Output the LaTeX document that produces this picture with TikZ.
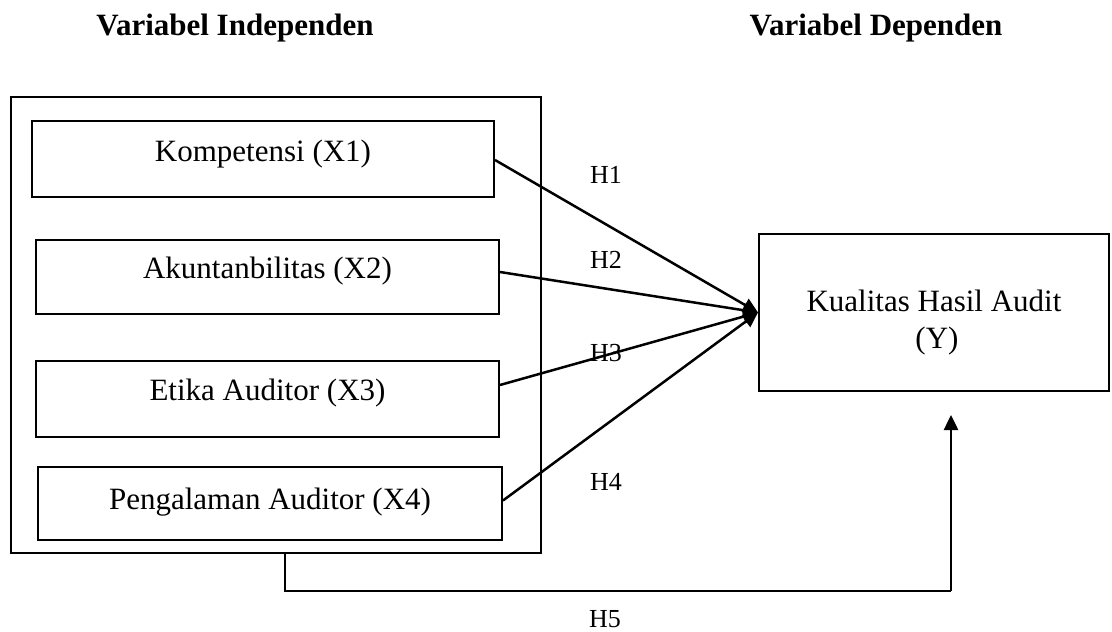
\documentclass[tikz,border=0pt]{standalone}
\usepackage{fontspec}
\setmainfont{Liberation Serif}
\usetikzlibrary{arrows.meta,calc}
\begin{document}
\begin{tikzpicture}[x=1pt,y=-1pt,
  boxstyle/.style={draw=black, line width=2pt, rectangle, inner sep=0pt},
  txt/.style={anchor=base, inner sep=0pt, font=\fontsize{31}{38}\selectfont},
  title/.style={anchor=base, inner sep=0pt, font=\fontsize{31}{38}\selectfont\bfseries},
  hlab/.style={anchor=base, inner sep=0pt, font=\fontsize{26}{30}\selectfont},
  conn/.style={line width=2.5pt, -{Triangle[length=15pt,width=14pt]}},
  plain/.style={line width=2.5pt}
]
\useasboundingbox (0,0) rectangle (1112,632);

% titles
\node[title] (ti1) at (235,35) {Variabel Independen};
\node[title] (ti2) at (876,35) {Variabel Dependen};

% outer frame
\node[boxstyle, minimum width=530pt, minimum height=456pt] (outer) at (276,325) {};

% independent variable boxes
\node[boxstyle, minimum width=462pt, minimum height=76pt] (b1) at (263,159) {};
\node[boxstyle, minimum width=463pt, minimum height=74pt] (b2) at (267.5,277) {};
\node[boxstyle, minimum width=463pt, minimum height=76pt] (b3) at (267.5,399) {};
\node[boxstyle, minimum width=464pt, minimum height=73pt] (b4) at (270,503.5) {};

\node[txt] (t1) at (263,161) {Kompetensi (X1)};
\node[txt] (t2) at (267.5,278) {Akuntanbilitas (X2)};
\node[txt] (t3) at (267.5,400) {Etika Auditor (X3)};
\node[txt] (t4) at (270,509) {Pengalaman Auditor (X4)};

% dependent variable box
\node[boxstyle, minimum width=350pt, minimum height=157pt] (Y) at (934,312.5) {};
\node[txt] (y1) at (934,311) {Kualitas Hasil Audit};
\node[txt] (y2) at (937,348) {(Y)};

% hypothesis arrows
\draw[conn] ($(b1.east)+(0,1)$) -- (Y.west);
\draw[conn] ($(b2.east)+(0,-5)$) -- (Y.west);
\draw[conn] ($(b3.east)+(0,-14)$) -- (Y.west);
\draw[conn] ($(b4.east)+(0,-3)$) -- (Y.west);

\node[hlab] (h1) at (606,183) {H1};
\node[hlab] (h2) at (606,268) {H2};
\node[hlab] (h3) at (606,361) {H3};
\node[hlab] (h4) at (606,490) {H4};
\node[hlab] (h5) at (605,627) {H5};

% H5 connector
\coordinate (h5start) at (285,553);
\coordinate (h5tip) at (951,415);
\draw[plain] (h5start) -- (285,591) -- (951,591);
\draw[conn] (951,591) -- (h5tip);
\end{tikzpicture}
\end{document}
